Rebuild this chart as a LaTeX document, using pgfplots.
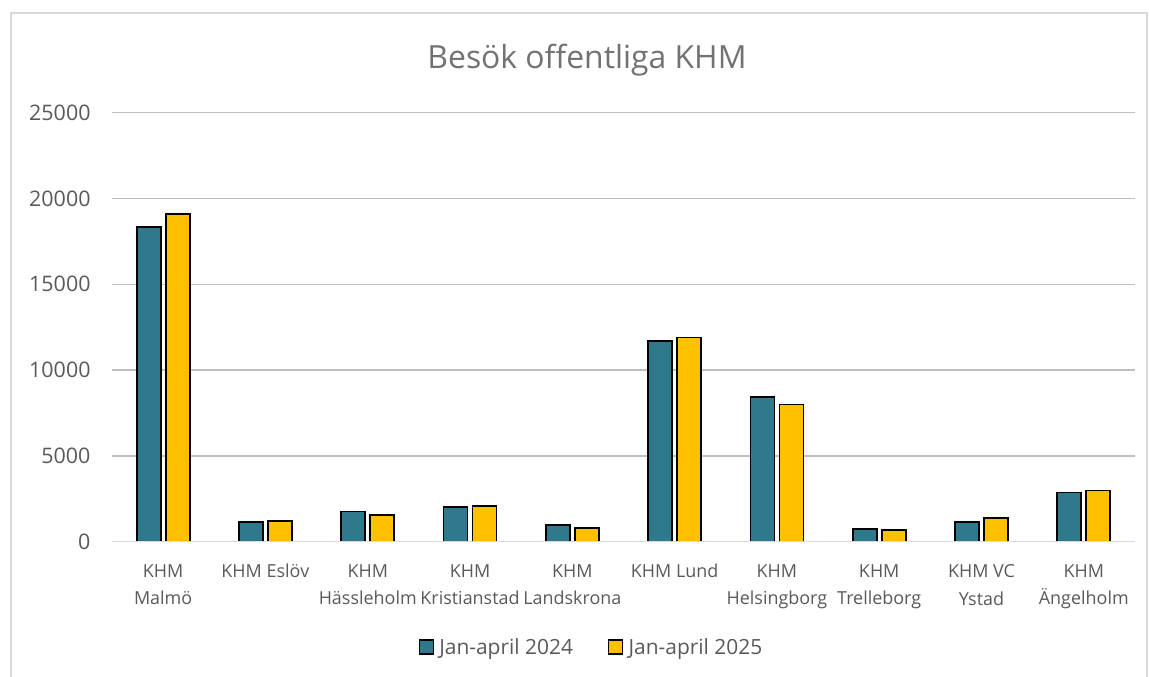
\documentclass[border=0pt]{standalone}
\usepackage{pgfplots}
\pgfplotsset{compat=1.18}
\usepackage{fontspec}
\setmainfont{Open Sans}
\definecolor{teal24}{RGB}{46,122,140}
\definecolor{gold25}{RGB}{255,192,0}
\definecolor{txt}{RGB}{89,89,89}
\definecolor{grid}{RGB}{217,217,217}
\begin{document}
\begin{tikzpicture}
\useasboundingbox (0bp,0bp) rectangle (1149bp,677bp);
\draw[grid, line width=1.5bp] (11bp,-10bp) -- (11bp,664bp) -- (1147bp,664bp) -- (1147bp,-10bp);
\node[txt!85, font=\fontsize{32}{36}\selectfont] at (587bp,617bp) {Besök offentliga KHM};
\begin{axis}[
  at={(112bp,135.3bp)}, anchor=south west,
  scale only axis, width=1023bp, height=429bp,
  ymin=0, ymax=25000, xmin=-0.5, xmax=9.5,
  ytick={0,5000,...,25000},
  axis line style={draw=none},
  xmajorgrids=false, ymajorgrids=true, grid style={grid, line width=1.5bp},
  xtick=data,
  xticklabels={{KHM\\Malmö},{KHM Eslöv},{KHM\\Hässleholm},{KHM\\Kristianstad},{KHM\\Landskrona},{KHM Lund},{KHM\\Helsingborg},{KHM\\Trelleborg},{KHM VC\\Ystad},{KHM\\Ängelholm}},
  xticklabel style={align=center, anchor=north, yshift=-19bp, text=txt, font=\fontsize{18}{28}\selectfont},
  yticklabel style={text=txt, font=\fontsize{21.5}{24}\selectfont, xshift=-18bp},
  /pgf/number format/assume math mode=true,
  scaled y ticks=false,
  yticklabel={\pgfmathprintnumber[fixed,1000 sep={}]{\tick}},
  major tick length=0pt, tick style={draw=none},
  ybar, bar width=24bp,
  legend columns=2,
  legend style={draw=none, at={(0.4687,-0.245)}, anchor=center, font=\fontsize{21}{24}\selectfont, text=txt, /tikz/every even column/.style={column sep=33bp}},
  legend image code/.code={\draw[#1, line width=1.5bp] (0bp,-7bp) rectangle (14bp,7bp); \path (17bp,0bp);},
]
\addplot[fill=teal24, draw=black, line width=1.8bp, bar shift=-14.5bp] coordinates {
(0,18350) (1,1160) (2,1760) (3,2030) (4,990) (5,11710) (6,8420) (7,720) (8,1160) (9,2870)};
\addplot[fill=gold25, draw=black, line width=1.8bp, bar shift=14.5bp] coordinates {
(0,19080) (1,1200) (2,1550) (3,2090) (4,815) (5,11900) (6,8000) (7,700) (8,1390) (9,2985)};
\draw[grid, line width=1.5bp] (axis cs:-0.5,0) -- (axis cs:9.5,0);
\legend{Jan-april 2024, Jan-april 2025}
\end{axis}
\end{tikzpicture}
\end{document}
